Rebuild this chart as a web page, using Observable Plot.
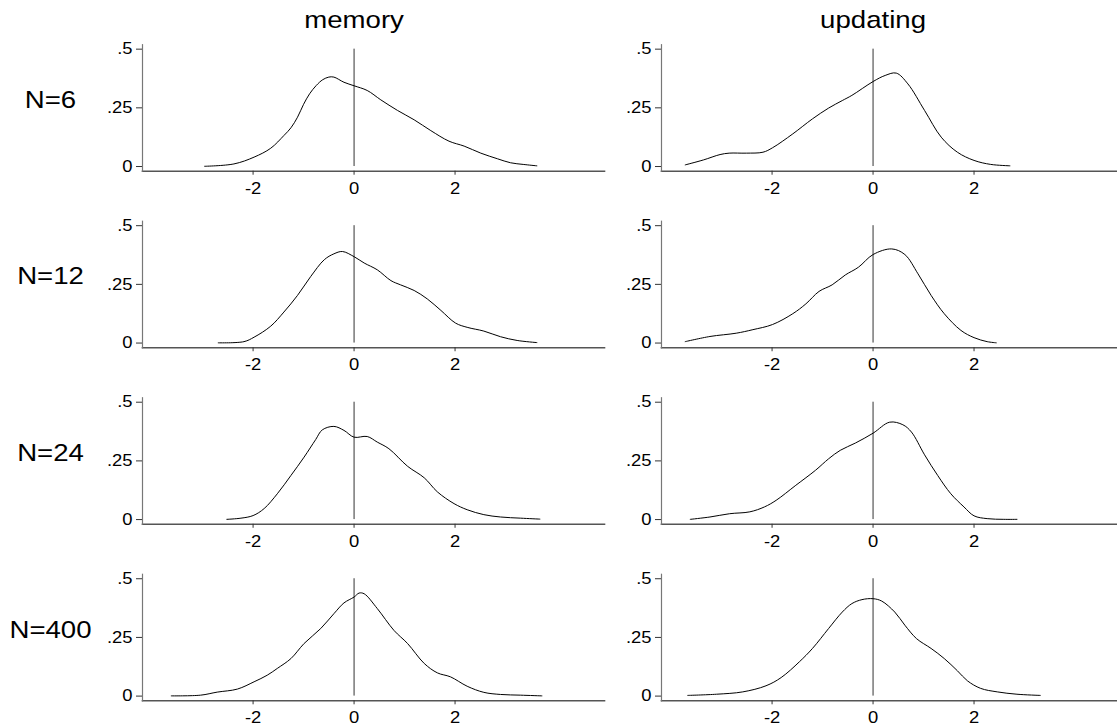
<!DOCTYPE html>
<html><head><meta charset="utf-8">
<script src="https://cdn.jsdelivr.net/npm/d3@7"></script>
<script src="https://cdn.jsdelivr.net/npm/@observablehq/plot@0.6"></script>
<style>
html,body{margin:0;padding:0;background:#fff;overflow:hidden}
#wrap{width:1117px;height:727px;overflow:hidden}
#wrap svg{max-width:none !important;height:727px !important}
</style></head><body><div id="wrap"></div>
<script>
const columns = ["memory", "updating"];
const rows = ["N=6", "N=12", "N=24", "N=400"];
const xTicks = [-2, 0, 2];
const xTickLabels = ["-2", "0", "2"];
const yTicks = [0, 0.25, 0.5];
const yTickLabels = ["0", ".25", ".5"];
const zeroLine = [0];

const memory_N6 = [[-2.96,0.001],[-2.38,0.011],[-1.98,0.04],[-1.65,0.078],[-1.39,0.132],[-1.25,0.165],[-1.12,0.21],[-1.0,0.265],[-0.88,0.31],[-0.75,0.345],[-0.62,0.37],[-0.5,0.381],[-0.4,0.381],[-0.2,0.359],[0,0.344],[0.26,0.324],[0.53,0.284],[0.86,0.239],[1.19,0.199],[1.52,0.153],[1.88,0.108],[2.18,0.087],[2.51,0.057],[2.84,0.033],[3.1,0.016],[3.35,0.009],[3.62,0.003]];
const updating_N6 = [[-3.72,0.007],[-3.36,0.028],[-3.03,0.051],[-2.85,0.057],[-2.51,0.057],[-2.18,0.061],[-1.99,0.08],[-1.59,0.139],[-1.2,0.203],[-0.88,0.249],[-0.61,0.281],[-0.42,0.303],[0,0.362],[0.24,0.388],[0.46,0.398],[0.69,0.352],[1.02,0.239],[1.35,0.125],[1.67,0.061],[2.0,0.026],[2.33,0.009],[2.71,0.003]];
const memory_N12 = [[-2.69,0.001],[-2.18,0.006],[-1.98,0.025],[-1.65,0.072],[-1.39,0.132],[-1.12,0.203],[-0.86,0.283],[-0.59,0.355],[-0.4,0.38],[-0.23,0.39],[0,0.368],[0.2,0.341],[0.46,0.312],[0.73,0.266],[0.92,0.248],[1.19,0.224],[1.45,0.188],[1.72,0.139],[2.01,0.085],[2.24,0.067],[2.57,0.051],[2.9,0.027],[3.23,0.011],[3.62,0.002]];
const updating_N12 = [[-3.72,0.006],[-3.23,0.028],[-2.71,0.042],[-2.38,0.057],[-1.99,0.079],[-1.59,0.125],[-1.33,0.167],[-1.07,0.22],[-0.81,0.248],[-0.55,0.29],[-0.29,0.323],[0,0.377],[0.37,0.401],[0.63,0.377],[0.89,0.295],[1.15,0.203],[1.41,0.125],[1.74,0.054],[2.0,0.023],[2.26,0.006],[2.44,0.001]];
const memory_N24 = [[-2.52,0.001],[-2.24,0.006],[-2.0,0.017],[-1.78,0.047],[-1.52,0.11],[-1.25,0.188],[-0.99,0.266],[-0.76,0.341],[-0.63,0.382],[-0.4,0.397],[-0.2,0.38],[0,0.351],[0.26,0.354],[0.46,0.33],[0.69,0.302],[1.06,0.227],[1.39,0.178],[1.65,0.118],[1.98,0.068],[2.24,0.042],[2.57,0.021],[2.9,0.011],[3.3,0.006],[3.68,0.002]];
const updating_N24 = [[-3.62,0.001],[-3.23,0.011],[-2.84,0.025],[-2.44,0.033],[-2.15,0.054],[-1.92,0.082],[-1.53,0.146],[-1.14,0.21],[-0.88,0.259],[-0.65,0.295],[-0.35,0.326],[0,0.368],[0.33,0.415],[0.59,0.404],[0.76,0.373],[1.02,0.276],[1.28,0.188],[1.54,0.11],[1.8,0.054],[2.0,0.016],[2.26,0.004],[2.59,0.001],[2.85,0.001]];
const memory_N400 = [[-3.62,0.001],[-3.04,0.004],[-2.71,0.017],[-2.31,0.03],[-1.98,0.061],[-1.72,0.089],[-1.52,0.118],[-1.25,0.16],[-0.99,0.224],[-0.66,0.288],[-0.4,0.351],[-0.2,0.397],[0,0.422],[0.1,0.439],[0.2,0.436],[0.46,0.373],[0.79,0.28],[1.06,0.224],[1.39,0.139],[1.65,0.099],[1.91,0.082],[2.24,0.042],[2.57,0.016],[2.9,0.007],[3.3,0.004],[3.72,0.001]];
const updating_N400 = [[-3.67,0.003],[-3.1,0.008],[-2.58,0.018],[-2.12,0.044],[-1.82,0.079],[-1.46,0.146],[-1.2,0.203],[-0.88,0.288],[-0.61,0.358],[-0.42,0.394],[-0.22,0.411],[0,0.415],[0.17,0.405],[0.43,0.358],[0.63,0.302],[0.86,0.245],[1.15,0.203],[1.41,0.16],[1.67,0.108],[1.87,0.065],[2.13,0.033],[2.46,0.018],[2.85,0.008],[3.31,0.003]];

const series = [
  {col: "memory", row: "N=6", pts: memory_N6},
  {col: "updating", row: "N=6", pts: updating_N6},
  {col: "memory", row: "N=12", pts: memory_N12},
  {col: "updating", row: "N=12", pts: updating_N12},
  {col: "memory", row: "N=24", pts: memory_N24},
  {col: "updating", row: "N=24", pts: updating_N24},
  {col: "memory", row: "N=400", pts: memory_N400},
  {col: "updating", row: "N=400", pts: updating_N400}
];
const data = series.flatMap(s => s.pts.map(([x, y]) => ({col: s.col, row: s.row, x, y})));

const chart = Plot.plot({
  width: 1123, height: 727,
  marginLeft: 142, marginRight: 0, marginTop: 44.2, marginBottom: 26.7,
  style: {fontFamily: "'Liberation Sans', Arial, sans-serif", background: "#fff", color: "#000", overflow: "visible"},
  facet: {marginTop: 0, marginRight: 0, marginBottom: 0, marginLeft: 0},
  fx: {domain: columns, paddingInner: 0.1098, paddingOuter: 0, axis: null, round: false},
  fy: {domain: rows, paddingInner: 0.2833, paddingOuter: 0, axis: null, round: false},
  x: {domain: [-4.19, 4.96]},
  y: {domain: [-0.02, 0.519]},
  marks: [
    Plot.frame({anchor: "bottom", stroke: "#555", strokeWidth: 1.6}),
    Plot.frame({anchor: "left", stroke: "#777", strokeWidth: 1.2}),
    Plot.axisX({ticks: xTicks, tickFormat: d => xTickLabels[xTicks.indexOf(d)], tickSize: 4, tickPadding: 7, fontSize: 16, label: null, facetAnchor: null, stroke: "#333"}),
    Plot.axisY({ticks: yTicks, tickFormat: d => yTickLabels[yTicks.indexOf(d)], tickSize: 6, tickPadding: 4, fontSize: 16, label: null, facetAnchor: null, stroke: "#333"}),
    Plot.ruleX(zeroLine, {x: d => d, y1: yTicks[0], y2: yTicks[2], stroke: "#333", strokeWidth: 1}),
    Plot.line(data, {x: "x", y: "y", fx: "col", fy: "row", z: d => d.col + d.row, curve: "catmull-rom", stroke: "#000", strokeWidth: 1}),
    Plot.text(columns, {fx: d => d, fy: () => rows[0], x: () => 0, frameAnchor: "top", lineAnchor: "bottom", dy: -17, text: d => d, fontSize: 24}),
    Plot.text(rows, {fy: d => d, fx: () => columns[0], frameAnchor: "left", dx: -92, textAnchor: "middle", lineAnchor: "bottom", text: d => d, fontSize: 24})
  ]
});
chart.style.maxWidth = "none";
// the reference's lettering is horizontally widened; widen each label about its anchor
chart.querySelectorAll("text").forEach(t => {
  const tr = t.getAttribute("transform");
  if (tr) t.setAttribute("transform", tr + " scale(1.15,1)");
});
document.getElementById("wrap").appendChild(chart);
</script></body></html>
